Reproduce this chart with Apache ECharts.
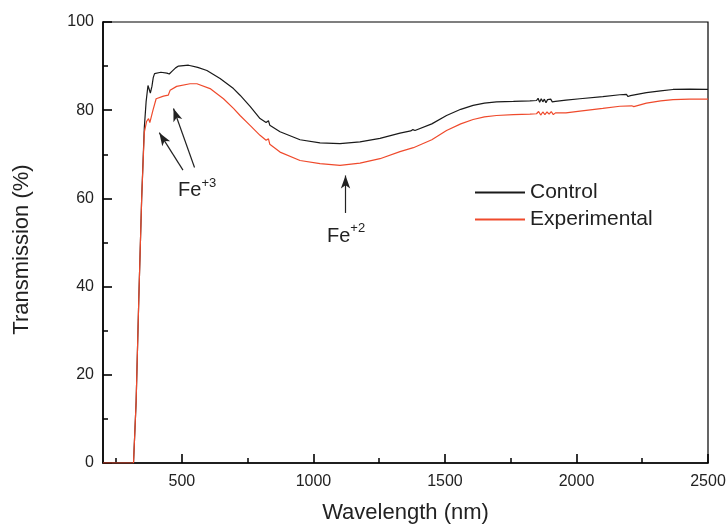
<!DOCTYPE html>
<html>
<head>
<meta charset="utf-8">
<script src="https://cdn.jsdelivr.net/npm/echarts@6/dist/echarts.min.js"></script>
<style>
html,body{margin:0;padding:0;background:#fff;}
#chart{width:728px;height:525px;}
</style>
</head>
<body>
<div id="chart"></div>
<script>
// ---- data ----
const controlWavelength = [200,300,316,326,336,347,357,364,371,376,380,386,391,396,420,443,452,462,476,487,525,560,595,645,696,721,760,797,820,829,834,873,949,1025,1101,1177,1253,1329,1370,1378,1386,1450,1506,1560,1607,1650,1696,1760,1823,1848,1854,1860,1866,1872,1878,1884,1890,1896,1902,1908,1914,1920,1926,1960,2013,2100,2165,2190,2196,2205,2266,2320,2367,2430,2494,2500];
const controlTransmission = [0,0,0,14,37,60,76,82,85.6,85.2,83.9,85.4,87.4,88.3,88.6,88.4,88.2,88.8,89.6,90.0,90.2,89.7,89.0,87.2,84.9,83.4,80.8,78.1,77.2,77.6,76.6,75.1,73.3,72.6,72.4,72.8,73.6,74.8,75.3,75.6,75.4,76.9,78.8,80.2,81.1,81.6,81.9,82.0,82.1,82.2,82.7,81.8,82.6,81.9,82.5,81.7,82.4,82.0,82.5,81.9,82.3,82.0,82.2,82.3,82.6,83.1,83.5,83.6,83.1,83.3,84.0,84.4,84.7,84.8,84.7,84.7];
const expWavelength = [200,300,316,326,336,347,357,366,373,378,382,390,402,430,448,455,480,531,557,607,658,696,721,760,797,820,829,834,873,949,1025,1101,1177,1253,1329,1380,1450,1506,1560,1607,1650,1696,1760,1823,1848,1856,1864,1872,1880,1888,1896,1904,1912,1920,1926,1960,2013,2100,2165,2210,2218,2266,2320,2367,2430,2494,2500];
const expTransmission = [0,0,0,14,37,60,75,77.5,78.1,77.2,76.8,80.0,82.6,83.2,83.4,84.5,85.4,86.0,86.0,84.9,82.6,80.4,78.8,76.5,74.3,73.2,73.5,72.3,70.5,68.6,67.9,67.5,68.0,69.0,70.6,71.5,73.3,75.4,76.9,77.9,78.5,78.8,79.0,79.1,79.2,79.7,78.9,79.6,79.0,79.6,79.1,79.7,79.0,79.4,79.3,79.4,79.8,80.4,80.9,81.0,80.8,81.6,82.1,82.4,82.5,82.5,82.5];
const seriesNames = ['Control','Experimental'];
const xMajorTicks = [500,1000,1500,2000,2500];
const xMinorTicks = [250,750,1250,1750,2250];
const fe3Arrows = [[[504,66.4],[414,74.9]],[[548,67.0],[468,80.4]]];
const fe2Arrow = [[1122,56.7],[1122,65.2]];
const annotations = [{name:'Fe3', coord:[558,61.8], base:'Fe', sup:'+3'},{name:'Fe2', coord:[1124,51.4], base:'Fe', sup:'+2'}];

const pair = (xs, ys) => xs.map((x,i)=>[x, ys[i]]);
const FONT = "'Liberation Sans', Arial, sans-serif";
const TXT = '#222';

const chart = echarts.init(document.getElementById('chart'), null, {renderer:'canvas'});
const arrowLines = fe3Arrows.concat([fe2Arrow]).map(a => [
  {coord:a[0], symbol:'none'},
  {coord:a[1], symbol:'arrow', symbolSize:[7,13]}
]);
chart.setOption({
  animation:false,
  backgroundColor:'#fff',
  textStyle:{fontFamily:FONT},
  grid:{left:103, right:20, top:22, bottom:62, outerBoundsMode:'none', containLabel:false, show:true, borderColor:'#000', borderWidth:1.2, backgroundColor:'transparent'},
  legend:{
    orient:'vertical', left:470, top:177, itemGap:6, itemWidth:50, itemHeight:2,
    icon:'rect',
    textStyle:{fontSize:21, color:TXT, fontFamily:FONT},
    data:seriesNames
  },
  xAxis:[{
    type:'value', min:200, max:2500,
    name:'Wavelength (nm)', nameLocation:'middle', nameGap:39,
    nameTextStyle:{fontSize:22, color:TXT, fontFamily:FONT},
    axisLine:{show:true, onZero:false, lineStyle:{color:'#000', width:1.6}},
    axisTick:{show:true, inside:true, length:9, customValues:xMajorTicks, lineStyle:{color:'#000', width:1.6}},
    axisLabel:{customValues:xMajorTicks, fontSize:16, color:TXT, margin:11, fontFamily:FONT, formatter:v => String(v)},
    splitLine:{show:false}
  },{
    type:'value', min:200, max:2500, gridIndex:0, position:'bottom',
    axisLine:{show:false},
    axisTick:{show:true, inside:true, length:5, customValues:xMinorTicks, lineStyle:{color:'#000', width:1.5}},
    axisLabel:{show:false},
    splitLine:{show:false}
  }],
  yAxis:{
    type:'value', min:0, max:100, interval:20,
    name:'Transmission (%)', nameLocation:'middle', nameGap:70,
    nameTextStyle:{fontSize:22, color:TXT, fontFamily:FONT, padding:[0,14,0,0]},
    axisLine:{show:true, lineStyle:{color:'#000', width:1.6}},
    axisTick:{show:true, inside:true, length:9, lineStyle:{color:'#000', width:1.6}},
    minorTick:{show:true, splitNumber:2, length:5, lineStyle:{color:'#000', width:1.5}},
    axisLabel:{fontSize:16, color:TXT, margin:9, fontFamily:FONT},
    splitLine:{show:false}
  },
  series:[{
    name:seriesNames[0], type:'line', symbol:'none', data:pair(controlWavelength, controlTransmission),
    lineStyle:{color:'#1a1a1a', width:1.2}, itemStyle:{color:'#1a1a1a'},
    markLine:{
      silent:true, animation:false,
      lineStyle:{color:'#222', width:1.2, type:'solid'},
      label:{show:false},
      data:arrowLines
    },
    markPoint:{
      silent:true, symbol:'circle', symbolSize:0,
      data:annotations.map(a=>({name:a.name, coord:a.coord, value:a.sup, base:a.base})),
      label:{
        show:true, position:'inside',
        formatter:p => '{a|' + p.data.base + '}{b|' + p.data.value + '}',
        rich:{
          a:{fontSize:20, color:TXT, fontFamily:FONT, lineHeight:28},
          b:{fontSize:13, color:TXT, fontFamily:FONT, verticalAlign:'top', lineHeight:14}
        }
      }
    }
  },{
    name:seriesNames[1], type:'line', symbol:'none', data:pair(expWavelength, expTransmission),
    lineStyle:{color:'#ef4a2c', width:1.2}, itemStyle:{color:'#ef4a2c'}
  }]
});
</script>
</body>
</html>
